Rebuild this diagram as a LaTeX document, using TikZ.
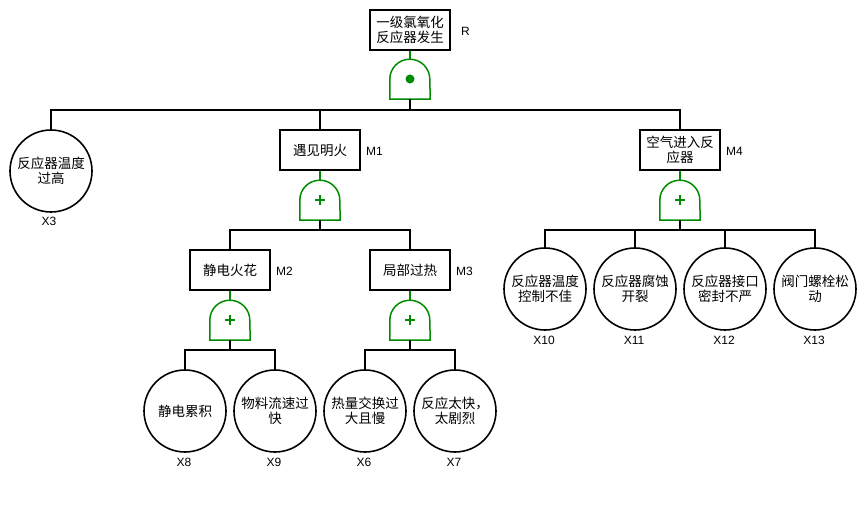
\documentclass[tikz,border=0pt]{standalone}
\usepackage{fontspec}
\setmainfont{Liberation Sans}
\newfontfamily\cjk{Noto Sans CJK SC}
\definecolor{gategreen}{RGB}{0,140,0}
\tikzset{
  evbox/.style={rectangle, draw=black, line width=1.4pt, minimum width=80pt, minimum height=40pt,
    inner sep=1pt, align=center, font=\cjk\fontsize{13.5}{15}\selectfont},
  basic/.style={circle, draw=black, line width=1.6pt, minimum size=82pt, inner sep=0pt,
    align=center, font=\cjk\fontsize{13.5}{15}\selectfont},
  idlab/.style={font=\fontsize{12}{13}\selectfont, inner sep=0pt},
  gatebox/.style={rectangle, minimum width=40pt, minimum height=40pt, inner sep=0pt},
  gateline/.style={draw=gategreen, line width=1.5pt},
  conn/.style={draw=black, line width=1.4pt},
}
\newcommand{\gateshape}[1]{%
  \draw[gateline] (#1.south west) -- ++(0pt,20pt) arc[start angle=180,end angle=0,radius=20pt] -- (#1.south east) -- cycle;}
\newcommand{\orsign}[1]{%
  \draw[gategreen, line width=1.5pt] ([xshift=-5pt]#1.center) -- ([xshift=5pt]#1.center)
    ([yshift=-5pt]#1.center) -- ([yshift=5pt]#1.center);}
\begin{document}
\begin{tikzpicture}[x=1pt,y=-1pt]
\useasboundingbox (0,0) rectangle (865,510);
% events
\node[evbox] (r) at (410,30) {一级氯氧化\\反应器发生};
\node[idlab, anchor=west] (rl) at (461,31) {R};
\node[gatebox] (gr) at (410,79) {};
\coordinate (br) at (410,110);

\node[evbox] (m1) at (320,150) {遇见明火};
\node[idlab, anchor=west] (m1l) at (366,151) {M1};
\node[gatebox] (g1) at (320,200) {};
\coordinate (b1) at (320,230);

\node[evbox] (m4) at (680,150) {空气进入反\\应器};
\node[idlab, anchor=west] (m4l) at (726,151) {M4};
\node[gatebox] (g4) at (680,200) {};
\coordinate (b4) at (680,230);

\node[evbox] (m2) at (230,270) {静电火花};
\node[idlab, anchor=west] (m2l) at (276,271) {M2};
\node[gatebox] (g2) at (230,320) {};
\coordinate (b2) at (230,350);

\node[evbox] (m3) at (410,270) {局部过热};
\node[idlab, anchor=west] (m3l) at (456,271) {M3};
\node[gatebox] (g3) at (410,320) {};
\coordinate (b3) at (410,350);

% basic events
\node[basic] (x3) at (51,171) {反应器温度\\过高};
\node[idlab] (x3l) at (49,221) {X3};

\node[basic] (x8) at (185,411) {静电累积};
\node[idlab] (x8l) at (184,462) {X8};
\node[basic] (x9) at (275,411) {物料流速过\\快};
\node[idlab] (x9l) at (274,462) {X9};
\node[basic] (x6) at (365,411) {热量交换过\\大且慢};
\node[idlab] (x6l) at (364,462) {X6};
\node[basic] (x7) at (455,411) {反应太快，\\太剧烈};
\node[idlab] (x7l) at (454,462) {X7};

\node[basic] (x10) at (545,289) {反应器温度\\控制不佳};
\node[idlab] (x10l) at (544,340) {X10};
\node[basic] (x11) at (635,289) {反应器腐蚀\\开裂};
\node[idlab] (x11l) at (634,340) {X11};
\node[basic] (x12) at (725,289) {反应器接口\\密封不严};
\node[idlab] (x12l) at (724,340) {X12};
\node[basic] (x13) at (815,289) {阀门螺栓松\\动};
\node[idlab] (x13l) at (814,340) {X13};

% gates
\foreach \g in {gr,g1,g4,g2,g3} {\gateshape{\g}}
\fill[gategreen] (gr.center) circle (4.5pt);
\foreach \g in {g1,g4,g2,g3} {\orsign{\g}}

% green links box -> gate
\draw[gateline] (r.south) -- (gr.north);
\draw[gateline] (m1.south) -- (g1.north);
\draw[gateline] (m4.south) -- (g4.north);
\draw[gateline] (m2.south) -- (g2.north);
\draw[gateline] (m3.south) -- (g3.north);

% black buses
\draw[conn] (gr.south) -- (br);
\draw[conn] (x3.north) |- (br) -| (m4.north);
\draw[conn] (m1.north) -- (m1.north |- br);

\draw[conn] (g1.south) -- (b1);
\draw[conn] (m2.north) |- (b1) -| (m3.north);

\draw[conn] (g4.south) -- (b4);
\draw[conn] (x10.north) |- (b4) -| (x13.north);
\draw[conn] (x11.north) -- (x11.north |- b4);
\draw[conn] (x12.north) -- (x12.north |- b4);

\draw[conn] (g2.south) -- (b2);
\draw[conn] (x8.north) |- (b2) -| (x9.north);

\draw[conn] (g3.south) -- (b3);
\draw[conn] (x6.north) |- (b3) -| (x7.north);
\end{tikzpicture}
\end{document}
